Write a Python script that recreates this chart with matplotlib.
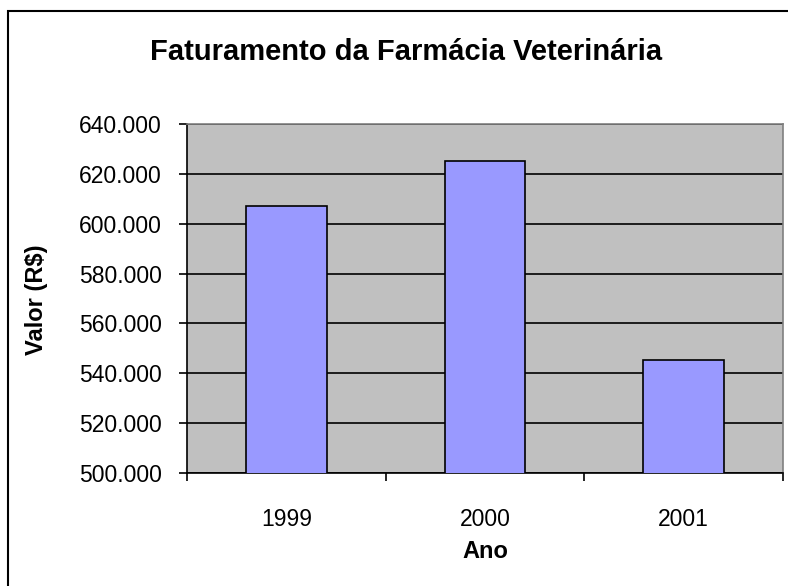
import matplotlib.pyplot as plt
from matplotlib.patches import Rectangle
from matplotlib.ticker import FuncFormatter

# Data
anos = ['1999', '2000', '2001']
valores = [607000, 625000, 545500]

plt.rcParams['font.family'] = ['Liberation Sans', 'DejaVu Sans']

fig = plt.figure(figsize=(7.88, 5.86), dpi=100)
ax = fig.add_axes([187/788, 1 - 473/586, (783 - 187)/788, (473 - 124)/586])

# outer chart border (cut off at right and bottom like the reference)
fig.patches.append(Rectangle((7.5/788, -0.1), 1.2, 1.1 - 10.5/586, transform=fig.transFigure,
                             fill=False, edgecolor='black', linewidth=1.5))

ax.set_facecolor('#C0C0C0')
pos = range(len(anos))
ax.bar(pos, valores, width=0.405, color='#9999FF', edgecolor='black', linewidth=1.2, zorder=3)

ax.set_ylim(500000, 640000)
ax.set_xlim(-0.5, 2.5)
ax.set_yticks(range(500000, 640001, 20000))
ax.yaxis.set_major_formatter(FuncFormatter(lambda v, p: f"{int(v):,}".replace(',', '.')))
ax.grid(axis='y', color='black', linewidth=1.2, zorder=1)
ax.set_axisbelow(True)

ax.set_xticks(list(pos))
ax.set_xticklabels(anos)
ax.set_xticks([-0.5, 0.5, 1.5, 2.5], minor=True)
ax.tick_params(axis='x', which='major', length=0, pad=25, labelsize=16.5)
ax.tick_params(axis='x', which='minor', length=6, width=1.2, direction='out')
ax.tick_params(axis='y', length=6, width=1.2, direction='out', pad=12, labelsize=16.5)

for s in ['top', 'right']:
    ax.spines[s].set_color('#808080')
    ax.spines[s].set_linewidth(1.2)
for s in ['left', 'bottom']:
    ax.spines[s].set_color('black')
    ax.spines[s].set_linewidth(1.2)

fig.text(406/788, 1 - 52/586, 'Faturamento da Farmácia Veterinária', ha='center', va='center',
         fontsize=21, fontweight='bold')
fig.text(37/788, 1 - 300/586, 'Valor (R$)', ha='center', va='center', rotation=90,
         fontsize=17, fontweight='bold')
fig.text(485/788, 1 - 552/586, 'Ano', ha='center', va='center', fontsize=17, fontweight='bold')

fig.savefig('out.png', dpi=100)
